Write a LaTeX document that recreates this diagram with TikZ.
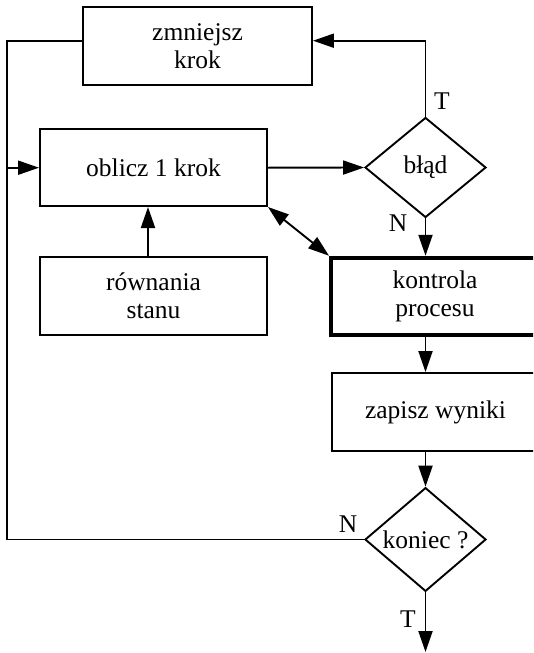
\documentclass[tikz,border=0pt]{standalone}
\usepackage{fontspec}
\setmainfont{Liberation Serif}
\usetikzlibrary{shapes.geometric,arrows.meta,calc}
\begin{document}
\begin{tikzpicture}[x=1pt,y=-1pt,
  every node/.style={font=\fontsize{25.5}{28}\selectfont},
  box/.style={draw,line width=1.9pt,rectangle,inner sep=0pt,align=center},
  thickbox/.style={box,line width=4pt},
  decision/.style={draw,line width=1.9pt,diamond,inner sep=0pt,minimum width=121pt,minimum height=100pt},
  conn/.style={line width=1.9pt},
  arr/.style={conn,-{Triangle[length=21pt,width=14pt]}},
  darr/.style={conn,{Triangle[length=21pt,width=14pt]}-{Triangle[length=21pt,width=14pt]}},
  lbl/.style={inner sep=0pt}
]
\useasboundingbox (0,0) rectangle (533,653);
\clip (0,0) rectangle (533,653);
\node[box,minimum width=229pt,minimum height=77.4pt] (zm) at (197.5,46) {zmniejsz\\krok};
\node[box,minimum width=227pt,minimum height=76.7pt] (ob) at (153.5,167.7) {oblicz 1 krok};
\node[box,minimum width=227pt,minimum height=78pt] (rs) at (153.5,296.2) {równania\\stanu};
\node[thickbox,minimum width=208pt,minimum height=77.5pt] (kp) at (435,296.5) {kontrola\\procesu};
\node[box,minimum width=207pt,minimum height=78pt] (zw) at (435.5,412) {zapisz wyniki};
\node[decision] (bl) at (425.5,167.5) {błąd};
\node[decision] (kn) at (425.5,539.5) {koniec ?};
\coordinate (L1) at (7.3,40.7);
\coordinate (L2) at (7.3,539.5);
\coordinate (R1) at (425.5,40.7);
\coordinate (ax) at (148,0);
\coordinate (end) at (425.5,652);
\draw[conn] (zm.west |- L1) -- (L1) -- (L2) -- (kn.west);
\draw[arr] (L1 |- ob.west) -- (ob.west);
\draw[arr] (bl.north) -- (R1) -- (zm.east |- R1);
\draw[arr] (ob.east) -- (bl.west);
\draw[arr] (ax |- rs.north) -- (ax |- ob.south);
\draw[darr] (ob.south east) -- (kp.north west);
\draw[arr] (bl.south) -- (bl.south |- kp.north);
\draw[arr] (bl.south |- kp.south) -- (bl.south |- zw.north);
\draw[arr] (kn.north |- zw.south) -- (kn.north);
\draw[arr] (kn.south) -- (end);
\node[lbl] (t1) at (442,101) {T};
\node[lbl] (n1) at (398,223) {N};
\node[lbl] (n2) at (348,524) {N};
\node[lbl] (t2) at (408,619) {T};
\end{tikzpicture}
\end{document}
